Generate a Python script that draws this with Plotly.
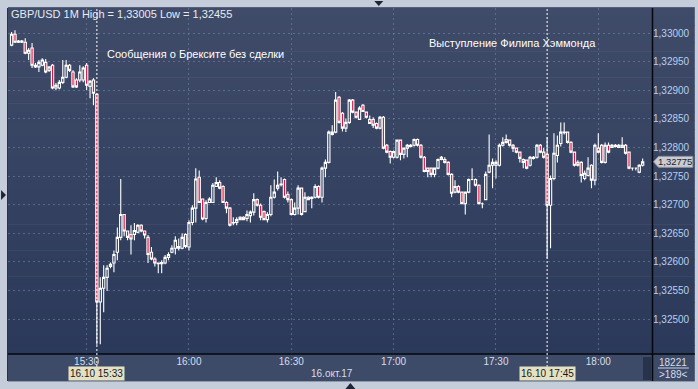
import plotly.graph_objects as go
import pandas as pd

# ---------------- data (GBP/USD, 1-minute candles, 16 Oct 2017) ----------------
start_time = "2017-10-16 15:08"

open_ = [
    1.32979, 1.32998, 1.32984, 1.32986, 1.32984, 1.32965, 1.32974, 1.32941, 1.32941, 1.32944,
    1.32949, 1.32935, 1.32944, 1.32904, 1.32904, 1.32914, 1.32923, 1.32944, 1.32932, 1.32918,
    1.32918, 1.32918, 1.32944, 1.32907, 1.32918,
    1.32893, 1.32530, 1.32554, 1.32573, 1.32592, 1.32598, 1.32617, 1.32643, 1.32683, 1.32654,
    1.32648, 1.32648, 1.32652, 1.32664, 1.32654, 1.32643, 1.32617, 1.32605, 1.32598, 1.32597,
    1.32598, 1.32608, 1.32617, 1.32624, 1.32624, 1.32624, 1.32648, 1.32626, 1.32669, 1.32694,
    1.32748, 1.32710, 1.32676, 1.32704, 1.32704, 1.32732, 1.32739, 1.32732, 1.32704, 1.32694,
    1.32669, 1.32669, 1.32678, 1.32678, 1.32676,
    1.32681, 1.32687, 1.32709, 1.32699, 1.32688, 1.32674, 1.32683, 1.32713, 1.32729, 1.32736,
    1.32744, 1.32718, 1.32709, 1.32683, 1.32694, 1.32729, 1.32688, 1.32713, 1.32711, 1.32713,
    1.32732, 1.32713, 1.32764, 1.32774, 1.32827, 1.32827, 1.32888, 1.32860, 1.32834, 1.32844,
    1.32883, 1.32862, 1.32849, 1.32874, 1.32862, 1.32849, 1.32849, 1.32842, 1.32834, 1.32853,
    1.32804, 1.32793, 1.32783, 1.32783, 1.32813, 1.32788, 1.32799, 1.32802, 1.32804, 1.32814,
    1.32804, 1.32783, 1.32764, 1.32764, 1.32753, 1.32764, 1.32779, 1.32779, 1.32774, 1.32753,
    1.32722, 1.32732, 1.32722, 1.32702, 1.32722, 1.32744, 1.32744, 1.32734, 1.32702, 1.32709,
    1.32757, 1.32769, 1.32769, 1.32769, 1.32804, 1.32814, 1.32813, 1.32804, 1.32799, 1.32792,
    1.32779, 1.32778, 1.32769, 1.32781, 1.32783, 1.32804, 1.32792, 1.32788, 1.32699, 1.32746,
    1.32786, 1.32807, 1.32827, 1.32827, 1.32809, 1.32792, 1.32774, 1.32774, 1.32746, 1.32751,
    1.32769, 1.32743, 1.32799, 1.32804, 1.32774, 1.32804, 1.32800, 1.32802, 1.32800, 1.32800,
    1.32804, 1.32792, 1.32764, 1.32764, 1.32757, 1.32769,
]

high = [
    1.33002, 1.33005, 1.32988, 1.32988, 1.32991, 1.32974, 1.32983, 1.32948, 1.32953, 1.32956,
    1.32955, 1.32942, 1.32946, 1.32913, 1.32918, 1.32953, 1.32953, 1.32946, 1.32935, 1.32921,
    1.32944, 1.32942, 1.32948, 1.32918, 1.32921,
    1.32895, 1.32573, 1.32594, 1.32594, 1.32599, 1.32620, 1.32660, 1.32745, 1.32683, 1.32655,
    1.32664, 1.32668, 1.32666, 1.32666, 1.32655, 1.32647, 1.32626, 1.32608, 1.32599, 1.32603,
    1.32612, 1.32617, 1.32629, 1.32645, 1.32641, 1.32650, 1.32650, 1.32673, 1.32699, 1.32764,
    1.32760, 1.32711, 1.32708, 1.32713, 1.32738, 1.32748, 1.32743, 1.32734, 1.32706, 1.32696,
    1.32678, 1.32678, 1.32680, 1.32680, 1.32690,
    1.32690, 1.32720, 1.32711, 1.32702, 1.32690, 1.32687, 1.32734, 1.32744, 1.32758, 1.32748,
    1.32746, 1.32723, 1.32711, 1.32704, 1.32734, 1.32730, 1.32722, 1.32715, 1.32715, 1.32736,
    1.32734, 1.32767, 1.32779, 1.32830, 1.32839, 1.32897, 1.32890, 1.32862, 1.32851, 1.32885,
    1.32885, 1.32863, 1.32872, 1.32876, 1.32863, 1.32856, 1.32853, 1.32844, 1.32855, 1.32855,
    1.32806, 1.32795, 1.32795, 1.32814, 1.32814, 1.32800, 1.32806, 1.32806, 1.32816, 1.32816,
    1.32806, 1.32785, 1.32765, 1.32765, 1.32765, 1.32781, 1.32785, 1.32783, 1.32776, 1.32755,
    1.32743, 1.32734, 1.32723, 1.32723, 1.32746, 1.32764, 1.32746, 1.32736, 1.32704, 1.32758,
    1.32823, 1.32781, 1.32778, 1.32807, 1.32818, 1.32823, 1.32814, 1.32806, 1.32800, 1.32793,
    1.32781, 1.32779, 1.32785, 1.32785, 1.32806, 1.32806, 1.32799, 1.32818, 1.32751, 1.32825,
    1.32821, 1.32844, 1.32844, 1.32828, 1.32811, 1.32793, 1.32778, 1.32776, 1.32760, 1.32783,
    1.32771, 1.32807, 1.32825, 1.32806, 1.32809, 1.32809, 1.32806, 1.32806, 1.32806, 1.32818,
    1.32806, 1.32793, 1.32765, 1.32765, 1.32771, 1.32781,
]

low = [
    1.32977, 1.32983, 1.32983, 1.32983, 1.32963, 1.32953, 1.32939, 1.32939, 1.32932, 1.32942,
    1.32930, 1.32932, 1.32902, 1.32900, 1.32902, 1.32911, 1.32921, 1.32932, 1.32904, 1.32904,
    1.32914, 1.32914, 1.32900, 1.32886, 1.32874,
    1.32455, 1.32456, 1.32512, 1.32549, 1.32589, 1.32582, 1.32603, 1.32638, 1.32645, 1.32638,
    1.32613, 1.32638, 1.32650, 1.32652, 1.32641, 1.32598, 1.32603, 1.32592, 1.32580, 1.32580,
    1.32596, 1.32603, 1.32615, 1.32613, 1.32620, 1.32622, 1.32624, 1.32620, 1.32664, 1.32669,
    1.32703, 1.32673, 1.32669, 1.32703, 1.32703, 1.32731, 1.32727, 1.32703, 1.32685, 1.32662,
    1.32664, 1.32664, 1.32673, 1.32673, 1.32671,
    1.32669, 1.32681, 1.32697, 1.32673, 1.32673, 1.32669, 1.32680, 1.32711, 1.32725, 1.32732,
    1.32711, 1.32704, 1.32681, 1.32681, 1.32683, 1.32681, 1.32687, 1.32708, 1.32694, 1.32711,
    1.32711, 1.32704, 1.32748, 1.32772, 1.32821, 1.32825, 1.32842, 1.32828, 1.32827, 1.32841,
    1.32860, 1.32851, 1.32848, 1.32862, 1.32851, 1.32841, 1.32834, 1.32832, 1.32832, 1.32797,
    1.32790, 1.32772, 1.32781, 1.32781, 1.32778, 1.32781, 1.32783, 1.32800, 1.32802, 1.32802,
    1.32781, 1.32757, 1.32748, 1.32748, 1.32748, 1.32762, 1.32778, 1.32772, 1.32751, 1.32713,
    1.32720, 1.32720, 1.32701, 1.32683, 1.32720, 1.32743, 1.32732, 1.32701, 1.32694, 1.32708,
    1.32755, 1.32729, 1.32746, 1.32767, 1.32802, 1.32807, 1.32802, 1.32792, 1.32790, 1.32774,
    1.32764, 1.32762, 1.32767, 1.32779, 1.32781, 1.32790, 1.32781, 1.32606, 1.32624, 1.32743,
    1.32774, 1.32802, 1.32823, 1.32807, 1.32790, 1.32767, 1.32767, 1.32739, 1.32743, 1.32750,
    1.32729, 1.32734, 1.32790, 1.32772, 1.32772, 1.32790, 1.32799, 1.32800, 1.32799, 1.32799,
    1.32788, 1.32762, 1.32760, 1.32760, 1.32755, 1.32767,
]

close = [
    1.32998, 1.32984, 1.32986, 1.32984, 1.32965, 1.32970, 1.32944, 1.32944, 1.32949, 1.32953,
    1.32932, 1.32941, 1.32904, 1.32909, 1.32914, 1.32923, 1.32944, 1.32935, 1.32906, 1.32906,
    1.32932, 1.32939, 1.32909, 1.32916, 1.32895,
    1.32530, 1.32554, 1.32573, 1.32589, 1.32596, 1.32613, 1.32643, 1.32683, 1.32654, 1.32643,
    1.32640, 1.32655, 1.32664, 1.32654, 1.32647, 1.32613, 1.32605, 1.32598, 1.32597, 1.32599,
    1.32608, 1.32613, 1.32624, 1.32638, 1.32627, 1.32643, 1.32627, 1.32669, 1.32694, 1.32745,
    1.32704, 1.32675, 1.32704, 1.32710, 1.32734, 1.32739, 1.32729, 1.32704, 1.32694, 1.32664,
    1.32668, 1.32674, 1.32674, 1.32674, 1.32683,
    1.32687, 1.32709, 1.32699, 1.32678, 1.32674, 1.32683, 1.32713, 1.32722, 1.32734, 1.32735,
    1.32713, 1.32709, 1.32683, 1.32694, 1.32729, 1.32683, 1.32713, 1.32709, 1.32713, 1.32732,
    1.32713, 1.32764, 1.32774, 1.32827, 1.32823, 1.32883, 1.32844, 1.32834, 1.32844, 1.32883,
    1.32862, 1.32853, 1.32869, 1.32863, 1.32853, 1.32842, 1.32839, 1.32834, 1.32853, 1.32799,
    1.32792, 1.32783, 1.32793, 1.32813, 1.32788, 1.32799, 1.32804, 1.32804, 1.32814, 1.32804,
    1.32783, 1.32758, 1.32758, 1.32753, 1.32764, 1.32779, 1.32783, 1.32774, 1.32753, 1.32720,
    1.32732, 1.32722, 1.32702, 1.32722, 1.32744, 1.32744, 1.32734, 1.32702, 1.32702, 1.32753,
    1.32769, 1.32774, 1.32774, 1.32804, 1.32809, 1.32809, 1.32804, 1.32799, 1.32792, 1.32781,
    1.32774, 1.32764, 1.32783, 1.32783, 1.32804, 1.32792, 1.32783, 1.32699, 1.32746, 1.32790,
    1.32804, 1.32827, 1.32826, 1.32809, 1.32792, 1.32769, 1.32769, 1.32751, 1.32755, 1.32764,
    1.32743, 1.32804, 1.32792, 1.32774, 1.32804, 1.32792, 1.32804, 1.32804, 1.32804, 1.32804,
    1.32790, 1.32764, 1.32764, 1.32764, 1.32769, 1.32775,
]

y_ticks = [1.32500, 1.32550, 1.32600, 1.32650, 1.32700, 1.32750,
           1.32800, 1.32850, 1.32900, 1.32950, 1.33000]
x_tick_labels = ["15:30", "16:00", "16:30", "17:00", "17:30", "18:00"]
chart_date = "2017-10-16"
date_label = "16.окт.17"
symbol_label = "GBP/USD 1M"
events = ["2017-10-16 15:33", "2017-10-16 17:45"]
event_tags = ["16.10 15:33", "16.10 17:45"]
event_texts = ["Сообщения о Брексите без сделки", "Выступление Филипа Хэммонда"]
bars_total, bars_visible = "18221", ">189<"

times = pd.date_range(start_time, periods=len(close), freq="min")

# ---------------- geometry helpers (pixels -> paper) ----------------
W, H = 698, 389
ML, MR, MT, MB = 8, 43, 8, 35
PW, PH = W - ML - MR, H - MT - MB


def px(x):
    return (x - ML) / PW


def py(y):
    return (H - MB - y) / PH


def fmt(v):
    return f"{v:.5f}".replace(".", ",")


fig = go.Figure()
fig.add_trace(go.Candlestick(
    x=times, open=open_, high=high, low=low, close=close,
    increasing=dict(line=dict(color="#ffffff", width=1.1), fillcolor="rgba(0,0,0,0)"),
    decreasing=dict(line=dict(color="#ffffff", width=1.1), fillcolor="#e3133f"),
    whiskerwidth=0, hoverinfo="skip", showlegend=False,
))

shapes = []
# gradient background (plot + price panel)
N = 40
top_c, bot_c = (63, 75, 104), (43, 57, 90)
for i in range(N):
    t = i / (N - 1)
    c = tuple(round(top_c[k] + (bot_c[k] - top_c[k]) * t) for k in range(3))
    y0 = MT + i * PH / N
    y1 = MT + (i + 1) * PH / N + 0.6
    shapes.append(dict(type="rect", xref="paper", yref="paper",
                       x0=px(ML), x1=px(W), y0=py(y1), y1=py(y0),
                       fillcolor="rgb(%d,%d,%d)" % c, line=dict(width=0), layer="below"))
# bottom time band
shapes.append(dict(type="rect", xref="paper", yref="paper", x0=px(ML), x1=px(W),
                   y0=py(381), y1=py(354), fillcolor="#3e4b68", line=dict(width=0), layer="below"))
shapes.append(dict(type="rect", xref="paper", yref="paper", x0=px(646), x1=px(654),
                   y0=py(380), y1=py(357), fillcolor="#27324b", line=dict(width=0), layer="below"))
# frame lines
shapes.append(dict(type="line", xref="paper", yref="paper", x0=px(ML), x1=px(W),
                   y0=py(354), y1=py(354), line=dict(color="#05070c", width=1.5)))
shapes.append(dict(type="line", xref="paper", yref="paper", x0=px(655.5), x1=px(655.5),
                   y0=py(381), y1=py(MT), line=dict(color="#05070c", width=1.5)))
shapes.append(dict(type="line", xref="paper", yref="paper", x0=px(7.5), x1=px(7.5),
                   y0=py(381), y1=py(MT), line=dict(color="#2a3248", width=1)))
shapes.append(dict(type="line", xref="paper", yref="paper", x0=px(ML), x1=px(W),
                   y0=py(7.5), y1=py(7.5), line=dict(color="#55607a", width=1)))
shapes.append(dict(type="line", xref="paper", yref="paper", x0=px(ML), x1=px(W),
                   y0=py(381.5), y1=py(381.5), line=dict(color="#8e99aa", width=1)))
# separator in bars box
shapes.append(dict(type="line", xref="paper", yref="paper", x0=px(661), x1=px(692),
                   y0=py(368), y1=py(368), line=dict(color="#c9d4e4", width=1)))
# event lines
for ev in events:
    shapes.append(dict(type="line", xref="x", yref="paper", x0=ev, x1=ev,
                       y0=py(367), y1=py(MT), line=dict(color="#ffffff", width=1, dash="2px,2px"),
                       layer="above"))
# small navigation triangles
shapes.append(dict(type="path", xref="paper", yref="paper",
                   path="M %f %f L %f %f L %f %f Z" % (px(376), py(1), px(385), py(1), px(380.5), py(6)),
                   fillcolor="#1c2436", line=dict(width=0)))
shapes.append(dict(type="path", xref="paper", yref="paper",
                   path="M %f %f L %f %f L %f %f Z" % (px(1), py(190), px(1), py(200), px(6), py(195)),
                   fillcolor="#1c2436", line=dict(width=0)))
shapes.append(dict(type="path", xref="paper", yref="paper",
                   path="M %f %f L %f %f L %f %f Z" % (px(347), py(389), px(357), py(389), px(352), py(383)),
                   fillcolor="#1c2436", line=dict(width=0)))
# current price marker
last = close[-1]
d = 0.0000175 * 5.5
shapes.append(dict(type="path", xref="paper", yref="y",
                   path="M %f %f L %f %f L %f %f L %f %f L %f %f Z" % (
                       px(656.5), last, px(661.5), last + d, px(696), last + d,
                       px(696), last - d, px(661.5), last - d),
                   fillcolor="#c9ccd2", line=dict(color="#8d939e", width=1), layer="above"))

annotations = [
    dict(xref="paper", yref="paper", x=px(9), y=py(14), xanchor="left", yanchor="middle",
         text="%s High = %s Low = %s" % (symbol_label, fmt(max(high)), fmt(min(low))),
         showarrow=False, font=dict(size=11, color="#e6ebf3", family="Liberation Sans")),
    dict(xref="x", yref="paper", x=events[0], y=py(54), xanchor="left", yanchor="middle", xshift=8,
         text=event_texts[0], showarrow=False,
         font=dict(size=11, color="#ffffff", family="Liberation Sans")),
    dict(xref="x", yref="paper", x=events[1], y=py(43), xanchor="right", yanchor="middle", xshift=51,
         text=event_texts[1], showarrow=False,
         font=dict(size=11, color="#ffffff", family="Liberation Sans")),
    dict(xref="paper", yref="paper", x=px(334), y=py(373.5), xanchor="center", yanchor="middle",
         text=date_label, showarrow=False, font=dict(size=10, color="#d5deeb", family="Liberation Sans")),
    dict(xref="paper", yref="paper", x=px(676.5), y=py(362), xanchor="center", yanchor="middle",
         text=bars_total, showarrow=False, font=dict(size=10, color="#d5deeb", family="Liberation Sans")),
    dict(xref="paper", yref="paper", x=px(676.5), y=py(374.5), xanchor="center", yanchor="middle",
         text=bars_visible, showarrow=False, font=dict(size=10, color="#d5deeb", family="Liberation Sans")),
    dict(xref="paper", yref="y", x=px(678.5), y=last, xanchor="center", yanchor="middle",
         text=fmt(last), showarrow=False, font=dict(size=9.5, color="#1a1f2a", family="Liberation Sans")),
]
for ev, tag in zip(events, event_tags):
    annotations.append(dict(xref="x", yref="paper", x=ev, y=py(373), xanchor="center", yanchor="middle",
                            text=tag, showarrow=False, bgcolor="#e4e1c3", borderpad=1,
                            font=dict(size=10, color="#15181e", family="Liberation Sans")))

x_tick_vals = ["%s %s" % (chart_date, t) for t in x_tick_labels]
x_left = pd.Timestamp("2017-10-16 15:30") - pd.Timedelta(minutes=(87 - ML) / 3.427)
x_right = x_left + pd.Timedelta(minutes=PW / 3.427)

grid = "rgba(125,143,178,0.5)"
fig.update_layout(
    width=W, height=H,
    margin=dict(l=ML, r=MR, t=MT, b=MB, pad=0),
    paper_bgcolor="#c4cdd9", plot_bgcolor="rgba(0,0,0,0)",
    separators=",.",
    boxgap=0.05,
    shapes=shapes, annotations=annotations,
    showlegend=False,
    font=dict(family="Liberation Sans"),
    xaxis=dict(type="date", range=[x_left, x_right], rangeslider=dict(visible=False),
               tickvals=x_tick_vals, ticktext=x_tick_labels,
               showgrid=True, gridcolor=grid, griddash="2px,3px", gridwidth=1,
               zeroline=False, showline=False, ticks="",
               tickfont=dict(size=10, color="#d5deeb", family="Liberation Sans")),
    yaxis=dict(range=[1.32439, 1.33044], side="right", tickvals=y_ticks,
               tickformat=".5f", showgrid=True, gridcolor=grid, griddash="2px,3px", gridwidth=1,
               zeroline=False, showline=False, ticks="",
               tickfont=dict(size=10, color="#b7cff0", family="Liberation Sans")),
)

fig.write_html("out.html")
